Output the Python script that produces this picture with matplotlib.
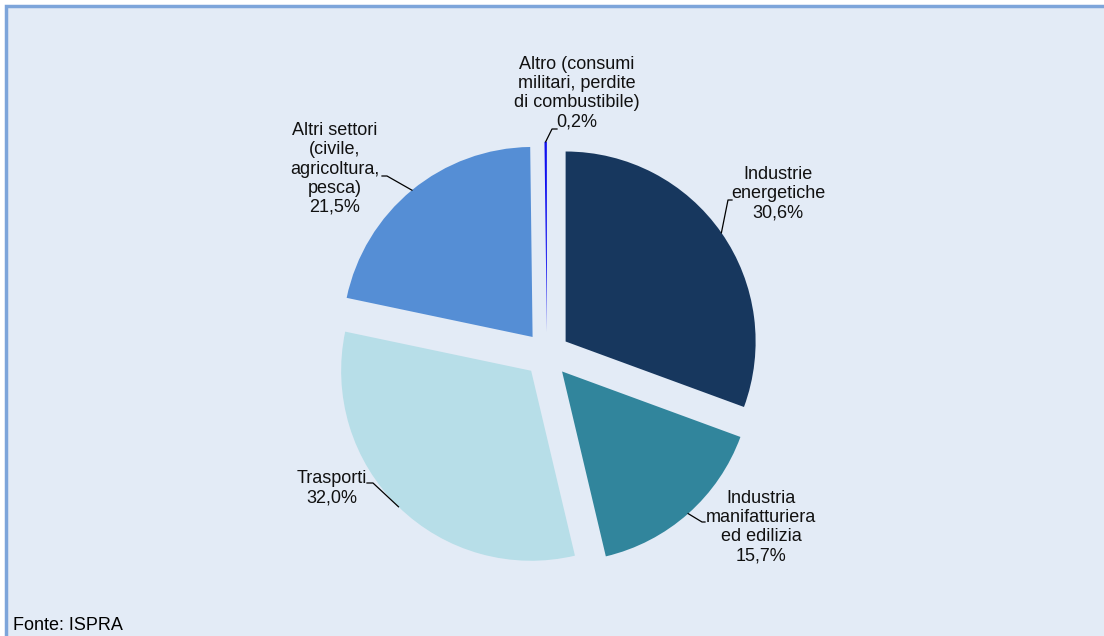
import matplotlib.pyplot as plt
from matplotlib.patches import Rectangle
import numpy as np

W, H = 1104, 636

sectors = [
    "Industrie\nenergetiche",
    "Industria\nmanifatturiera\ned edilizia",
    "Trasporti",
    "Altri settori\n(civile,\nagricoltura,\npesca)",
    "Altro (consumi\nmilitari, perdite\ndi combustibile)",
]
shares = [30.6, 15.7, 32.0, 21.5, 0.2]
colors = ["#17375E", "#31859C", "#B7DEE8", "#558ED5", "#1010F0"]

# label block centre, elbow of the leader, end of the leader (pixels)
label_pos = [(778, 194), (761, 527), (332, 488), (335, 169), (577, 93)]
elbows = [(728, 200), (702, 522), (373, 483), (387, 176), (552, 129)]
ends = [(732, 200), (705, 522), (367, 483), (382, 176), (557, 129)]

plt.rcParams["font.family"] = ["Liberation Sans", "DejaVu Sans"]

fig = plt.figure(figsize=(W / 100, H / 100), dpi=100, facecolor="white")
fig.patches.append(Rectangle((6 / W, -0.05), 1.1, 1 - 6 / H + 0.05,
                             transform=fig.transFigure, facecolor="#E3EBF6",
                             edgecolor="#7DA5DA", linewidth=2.5, zorder=-1))

ax = fig.add_axes([0, 0, 1, 1])
ax.set_facecolor("none")

wedges, _ = ax.pie(shares, center=(547, 354.5), radius=190,
                   explode=[22.7] * len(shares), startangle=-90,
                   counterclock=True, colors=colors,
                   wedgeprops=dict(linewidth=0))
ax.set_xlim(0, W)
ax.set_ylim(H, 0)
ax.set_aspect("equal")
ax.axis("off")

for w, name, val, pos, el, en in zip(wedges, sectors, shares, label_pos, elbows, ends):
    mid = np.deg2rad((w.theta1 + w.theta2) / 2)
    px = w.center[0] + w.r * np.cos(mid)
    py = w.center[1] + w.r * np.sin(mid)
    ax.plot([px, el[0], en[0]], [py, el[1], en[1]], color="black", lw=0.9)
    txt = name + "\n" + f"{val:.1f}".replace(".", ",") + "%"
    ax.text(pos[0], pos[1], txt, ha="center", va="center", fontsize=13,
            linespacing=1.16, color="#111111")

fig.text(13 / W, 1 - 630 / H, "Fonte: ISPRA", fontsize=13, va="baseline")

fig.savefig("out.png", dpi=100)
